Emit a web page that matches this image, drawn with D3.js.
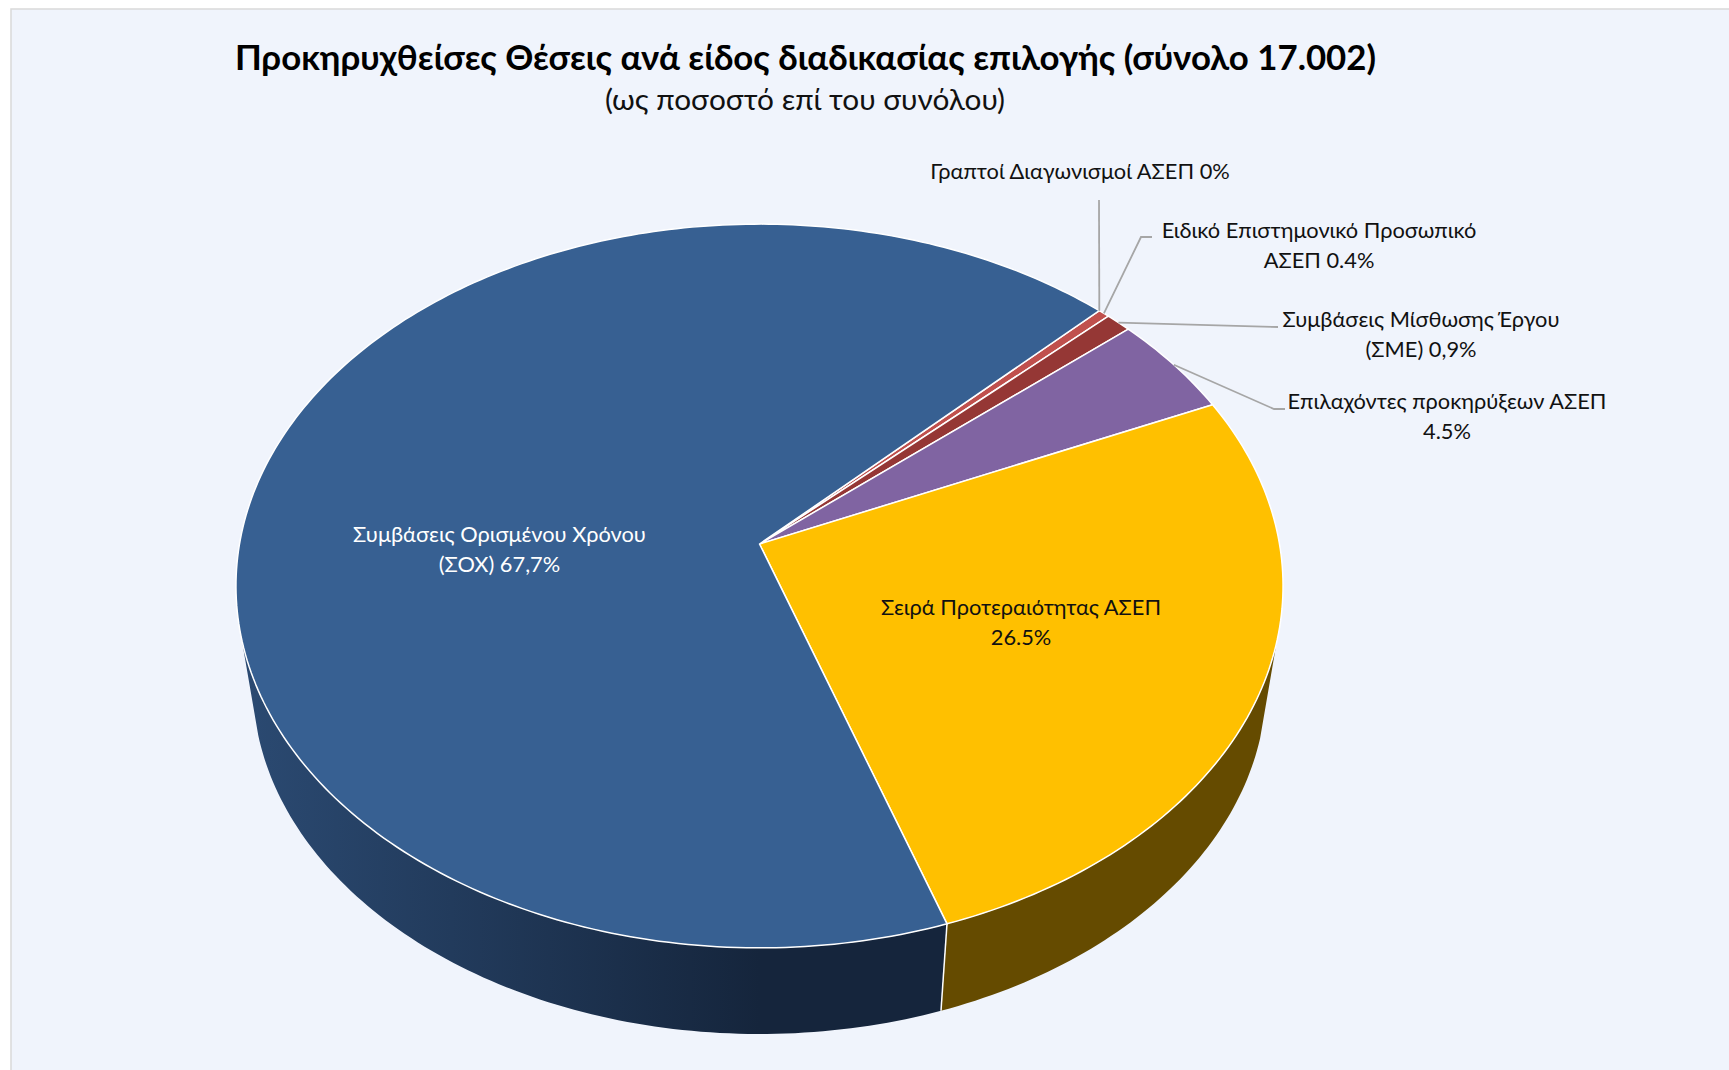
<!DOCTYPE html>
<html lang="el">
<head>
<meta charset="utf-8">
<title>Προκηρυχθείσες Θέσεις</title>
<script src="https://cdn.jsdelivr.net/npm/d3@7"></script>
<style>
  html, body { margin: 0; padding: 0; background: #fff; }
  svg { display: block; }
  text { font-family: Lato, "Open Sans", "Noto Sans", sans-serif; }
</style>
</head>
<body>
<svg id="chart" width="1729" height="1070"></svg>
<script>
// Data, clockwise from the first slice
const categories = [
  "Γραπτοί Διαγωνισμοί ΑΣΕΠ",
  "Ειδικό Επιστημονικό Προσωπικό ΑΣΕΠ",
  "Συμβάσεις Μίσθωσης Έργου (ΣΜΕ)",
  "Επιλαχόντες προκηρύξεων ΑΣΕΠ",
  "Σειρά Προτεραιότητας ΑΣΕΠ",
  "Συμβάσεις Ορισμένου Χρόνου (ΣΟΧ)"
];
const shares = [0, 0.4, 0.9, 4.5, 26.5, 67.7];
const labelLines = [
  ["Γραπτοί Διαγωνισμοί ΑΣΕΠ 0%"],
  ["Ειδικό Επιστημονικό Προσωπικό", "ΑΣΕΠ 0.4%"],
  ["Συμβάσεις Μίσθωσης Έργου", "(ΣΜΕ) 0,9%"],
  ["Επιλαχόντες προκηρύξεων ΑΣΕΠ", "4.5%"],
  ["Σειρά Προτεραιότητας ΑΣΕΠ", "26.5%"],
  ["Συμβάσεις Ορισμένου Χρόνου", "(ΣΟΧ) 67,7%"]
];
const titleText = "Προκηρυχθείσες Θέσεις ανά είδος διαδικασίας επιλογής (σύνολο 17.002)";
const subtitleText = "(ως ποσοστό επί του συνόλου)";

// Styles and layout
const topColors = ["#c0504d", "#c0504d", "#953735", "#8064a2", "#ffc000", "#376092"];
const sideColors = ["#602625", "#602625", "#4a1b1a", "#403152", "#654b00", "url(#sideBlue)"];
const labelColors = ["#111", "#111", "#111", "#111", "#111", "#fff"];
const labelPos = [[1080, 179], [1319, 238], [1421, 327], [1447, 409], [1021, 615], [499.5, 542]];
const leaderBends = [[[1099, 200]], [[1141, 237], [1152, 237]], [[1278, 327]], [[1274, 409], [1285, 409]], null, null];

// Projection of the tilted disc
const apex = { x: 759.5, y: 544 };
const discX = 520, discY = 357, tilt = 0.116;   // perspective on the top face
const depthScale = 0.968, vanishY = 3640;       // lower rim shrinks toward the vanishing point
const deg = Math.PI / 180;
const wallFrom = 105.5 * deg, wallTo = 255 * deg;  // front part of the wall, ends on the silhouette

const svg = d3.select("#chart");
const defs = svg.append("defs");

const sideGrad = defs.append("linearGradient")
  .attr("id", "sideBlue").attr("gradientUnits", "userSpaceOnUse")
  .attr("x1", 240).attr("x2", 760).attr("y1", 0).attr("y2", 0);
sideGrad.append("stop").attr("offset", "0%").attr("stop-color", "#2b4a72");
sideGrad.append("stop").attr("offset", "100%").attr("stop-color", "#15253c");

// panel
svg.append("rect")
  .attr("x", 11).attr("y", 9).attr("width", 1730).attr("height", 1070)
  .attr("fill", "#f0f4fc").attr("stroke", "#d9d9d9").attr("stroke-width", 1.5);

function project(angle) {
  // angle is clockwise from the top of the disc
  const X = Math.sin(angle), Y = -Math.cos(angle);
  const w = 1 - tilt * Y;
  return [apex.x + discX * X / w, apex.y + discY * Y / w];
}

function lower(p) {
  return [apex.x + depthScale * (p[0] - apex.x), vanishY + depthScale * (p[1] - vanishY)];
}

const pie = d3.pie().sort(null)
  .startAngle(Math.PI / 4).endAngle(Math.PI / 4 + 2 * Math.PI);
const arcs = pie(shares);

const line = d3.line();

function rimPoints(a0, a1) {
  const n = Math.max(2, Math.ceil((a1 - a0) * 60));
  return d3.range(n + 1).map(i => project(a0 + (a1 - a0) * i / n));
}

// side wall, only the front of each slice
const wallArcs = arcs.filter(d => d.value > 0 && d.endAngle > wallFrom && d.startAngle < wallTo);
svg.append("g").selectAll("path")
  .data(wallArcs)
  .join("path")
  .attr("d", d => {
    const rim = rimPoints(Math.max(d.startAngle, wallFrom), Math.min(d.endAngle, wallTo));
    return line(rim.concat(rim.map(lower).reverse())) + "Z";
  })
  .attr("fill", d => sideColors[d.index]);

// white seams on the wall
svg.append("g").selectAll("path")
  .data(wallArcs.filter(d => d.startAngle > wallFrom))
  .join("path")
  .attr("d", d => {
    const p = project(d.startAngle);
    return line([p, lower(p)]);
  })
  .attr("stroke", "#fff").attr("stroke-width", 1.5);

// top face
svg.append("g").selectAll("path")
  .data(arcs.filter(d => d.value > 0))
  .join("path")
  .attr("d", d => line([[apex.x, apex.y]].concat(rimPoints(d.startAngle, d.endAngle))) + "Z")
  .attr("fill", d => topColors[d.index])
  .attr("stroke", "#fff").attr("stroke-width", 1.5).attr("stroke-linejoin", "round");

// leader lines
svg.append("g").selectAll("path")
  .data(arcs.filter(d => leaderBends[d.index]))
  .join("path")
  .attr("d", d => line([project((d.startAngle + d.endAngle) / 2)].concat(leaderBends[d.index])))
  .attr("fill", "none").attr("stroke", "#a6a6a6").attr("stroke-width", 1.8);

// labels
const labels = svg.append("g").selectAll("text")
  .data(arcs)
  .join("text")
  .attr("transform", d => `translate(${labelPos[d.index][0]},${labelPos[d.index][1]})`)
  .attr("text-anchor", "middle")
  .attr("font-size", 21.8)
  .attr("fill", d => labelColors[d.index]);
labels.selectAll("tspan")
  .data(d => labelLines[d.index])
  .join("tspan")
  .attr("x", 0)
  .attr("y", (d, i) => i * 29.5)
  .text(d => d);

// titles
svg.append("text")
  .attr("x", 805.5).attr("y", 70)
  .attr("text-anchor", "middle").attr("font-size", 34.8).attr("font-weight", 700)
  .attr("fill", "#000").text(titleText);
svg.append("text")
  .attr("x", 805).attr("y", 110)
  .attr("text-anchor", "middle").attr("font-size", 29.8)
  .attr("fill", "#111").text(subtitleText);
</script>
</body>
</html>
